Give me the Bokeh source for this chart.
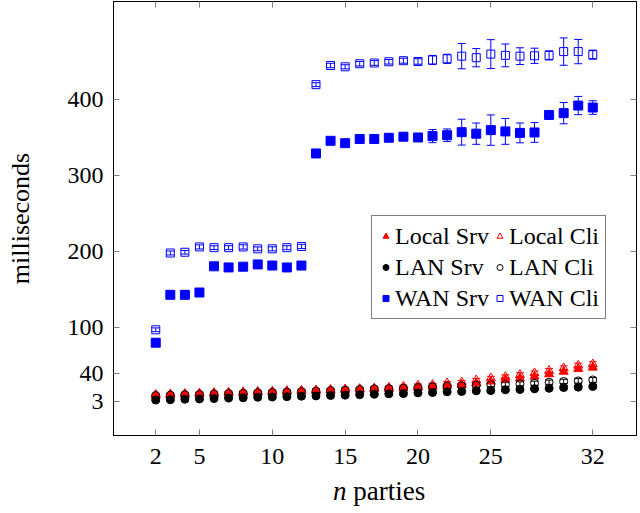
from bokeh.plotting import figure
from bokeh.layouts import column
from bokeh.models import (ColumnDataSource, FixedTicker, LinearAxis, Legend, LegendItem,
                          Whisker, TeeHead, Range1d, Div)
from bokeh.embed import file_html
from bokeh.resources import INLINE

# ---------------- data ----------------
n_parties = list(range(2, 33))

local_srv = [10.5, 11.2, 11.8, 12.3, 12.9, 13.4, 14.0, 14.5, 15.0, 15.6, 16.1, 16.7, 17.2, 17.8, 18.3,
             18.8, 19.3, 20.0, 21.0, 22.0, 23.2, 24.6, 26.7, 29.0, 31.6, 33.3, 35.5, 38.6, 42.0, 45.6, 47.4]
local_srv_err = [1.2, 1.3, 1.2, 1.4, 1.3, 1.2, 1.4, 1.3, 1.5, 1.4, 1.3, 1.5, 1.4, 1.6, 1.5,
                 1.6, 1.5, 1.7, 1.8, 1.8, 2.0, 2.1, 2.2, 2.4, 2.3, 2.5, 2.6, 2.8, 2.7, 2.9, 3.0]
local_cli = [11.5, 12.3, 12.8, 13.4, 14.0, 14.5, 15.0, 15.6, 16.0, 16.6, 17.0, 17.6, 18.2, 18.8, 19.3,
             20.0, 21.0, 22.4, 23.7, 24.6, 26.7, 28.0, 30.7, 33.3, 35.0, 37.7, 40.0, 43.0, 46.5, 50.0, 51.7]
local_cli_err = [1.2, 1.3, 1.3, 1.4, 1.3, 1.4, 1.4, 1.3, 1.5, 1.5, 1.4, 1.6, 1.5, 1.6, 1.7,
                 1.6, 1.8, 1.9, 2.0, 2.1, 2.2, 2.3, 2.4, 2.5, 2.6, 2.7, 2.8, 2.9, 3.0, 3.1, 3.2]
lan_srv = [4.5, 5.0, 5.6, 6.0, 6.5, 7.1, 7.5, 8.2, 8.5, 9.0, 9.6, 10.0, 10.6, 11.0, 11.5,
           12.2, 12.7, 13.0, 14.0, 14.5, 15.4, 15.8, 16.7, 17.0, 18.0, 18.4, 19.3, 20.0, 21.0, 21.5, 22.4]
lan_srv_err = [1.0, 1.1, 1.0, 1.2, 1.1, 1.0, 1.2, 1.1, 1.3, 1.2, 1.1, 1.3, 1.2, 1.4, 1.3,
               1.4, 1.3, 1.5, 1.5, 1.6, 1.5, 1.7, 1.6, 1.8, 1.7, 1.9, 1.8, 2.0, 2.0, 2.1, 2.2]
lan_cli = [10.5, 11.0, 11.6, 12.0, 12.4, 13.1, 13.5, 14.2, 14.6, 15.0, 15.7, 16.3, 17.0, 17.6, 18.4,
           19.3, 19.6, 20.0, 21.0, 22.0, 22.8, 23.2, 24.0, 24.6, 25.0, 25.9, 26.7, 28.0, 29.0, 29.8, 31.0]
lan_cli_err = [1.3, 1.4, 1.3, 1.5, 1.4, 1.3, 1.5, 1.4, 1.6, 1.5, 1.4, 1.6, 1.5, 1.7, 1.6,
               1.7, 1.6, 1.8, 1.9, 2.0, 2.1, 2.2, 2.3, 2.4, 2.5, 2.6, 2.7, 2.8, 2.9, 3.0, 3.1]
wan_srv = [80.0, 143.0, 143.0, 146.0, 180.5, 179.0, 180.0, 183.0, 181.5, 179.0, 181.5, 329.0, 345.6, 342.5, 348.0,
           348.0, 349.6, 351.0, 350.0, 351.8, 353.0, 357.0, 355.0, 359.7, 358.0, 356.0, 356.6, 379.6, 382.0, 392.0, 389.4]
wan_srv_err = [2.0, 2.2, 2.0, 2.4, 2.1, 2.3, 2.2, 2.5, 2.4, 2.2, 2.6, 2.5, 2.8, 2.6, 3.0,
               3.2, 3.0, 3.5, 4.0, 8.6, 8.2, 17.0, 14.0, 20.0, 17.0, 13.0, 13.0, 5.0, 14.0, 12.0, 9.0]
wan_cli = [97.0, 198.0, 199.0, 206.0, 205.0, 205.0, 206.0, 203.5, 203.5, 205.0, 206.6, 419.5, 444.7, 443.0, 447.0,
           448.0, 449.6, 451.0, 450.0, 452.0, 453.5, 457.0, 455.0, 459.7, 458.0, 457.0, 457.5, 458.0, 463.0, 463.0, 459.0]
wan_cli_err = [2.5, 2.6, 2.4, 2.7, 2.5, 2.6, 2.8, 2.5, 2.7, 2.6, 2.8, 2.6, 2.9, 2.7, 3.0,
               3.1, 3.0, 3.3, 3.6, 6.0, 6.0, 16.6, 12.0, 19.0, 15.0, 11.0, 10.0, 6.0, 18.0, 16.0, 6.0]

x_ticks = [2, 5, 10, 15, 20, 25, 32]
y_ticks = [3, 40, 100, 200, 300, 400]

FONT = "Liberation Serif"
TICK_GRAY = "#808080"

# ---------------- figure ----------------
p = figure(frame_width=523, frame_height=434, output_backend="svg", toolbar_location=None,
           x_range=Range1d(-0.9, 35.0), y_range=Range1d(-42.1, 528.9),
           min_border_left=113, min_border_right=4, min_border_top=1, min_border_bottom=41,
           margin=0)
p.grid.visible = False
p.outline_line_color = "black"
p.outline_line_width = 1
p.background_fill_color = "white"
p.border_fill_color = "white"

for ax, tk in ((p.xaxis[0], x_ticks), (p.yaxis[0], y_ticks)):
    ax.ticker = FixedTicker(ticks=tk)
    ax.major_tick_in = 6
    ax.major_tick_out = 0
    ax.minor_tick_line_color = None
    ax.major_tick_line_color = TICK_GRAY
    ax.axis_line_color = "black"
    ax.major_label_text_font = FONT
    ax.major_label_text_font_size = "24px"
    ax.major_label_text_color = "black"

p.xaxis[0].major_label_standoff = 13
p.yaxis[0].major_label_standoff = 10
p.yaxis[0].axis_label = "milliseconds"
p.yaxis[0].axis_label_text_font = FONT
p.yaxis[0].axis_label_text_font_size = "26px"
p.yaxis[0].axis_label_text_font_style = "normal"
p.yaxis[0].axis_label_text_color = "black"
p.yaxis[0].axis_label_standoff = 30

top_ax = LinearAxis(ticker=FixedTicker(ticks=x_ticks), major_label_text_font_size="1px",
                    major_label_text_color=None,
                    major_label_standoff=0, major_tick_in=6, major_tick_out=0,
                    minor_tick_line_color=None, major_tick_line_color=TICK_GRAY,
                    axis_line_color="black")
right_ax = LinearAxis(ticker=FixedTicker(ticks=y_ticks), major_label_text_font_size="1px",
                      major_label_text_color=None,
                      major_label_standoff=0, major_tick_in=6, major_tick_out=0,
                      minor_tick_line_color=None, major_tick_line_color=TICK_GRAY,
                      axis_line_color="black")
p.add_layout(top_ax, "above")
p.add_layout(right_ax, "right")

series = [
    ("Local Srv", local_srv, local_srv_err, "triangle", 9, "#ff0000", True),
    ("Local Cli", local_cli, local_cli_err, "triangle", 9, "#ff0000", False),
    ("LAN Srv", lan_srv, lan_srv_err, "circle", 8, "black", True),
    ("LAN Cli", lan_cli, lan_cli_err, "circle", 8, "black", False),
    ("WAN Srv", wan_srv, wan_srv_err, "square", 9, "#0000ff", True),
    ("WAN Cli", wan_cli, wan_cli_err, "square", 8, "#0000ff", False),
]

renderers = {}
for name, vals, errs, marker, size, color, filled in series:
    src = ColumnDataSource(dict(
        x=n_parties, y=vals,
        lo=[v - e for v, e in zip(vals, errs)],
        hi=[v + e for v, e in zip(vals, errs)],
    ))
    w = Whisker(source=src, base="x", lower="lo", upper="hi", level="underlay",
                line_color=color, line_width=1,
                lower_head=TeeHead(size=8, line_color=color, line_width=1),
                upper_head=TeeHead(size=8, line_color=color, line_width=1))
    p.add_layout(w)
    r = p.scatter(x="x", y="y", source=src, marker=marker, size=size,
                  line_color=color, line_width=1,
                  fill_color=color if filled else None,
                  fill_alpha=1.0 if filled else 0.0)
    renderers[name] = r

order = ["Local Srv", "LAN Srv", "WAN Srv", "Local Cli", "LAN Cli", "WAN Cli"]
legend = Legend(items=[LegendItem(label=nm, renderers=[renderers[nm]]) for nm in order],
                location=(258, 116), orientation="vertical", nrows=3,
                glyph_width=15, glyph_height=28, label_height=28, label_standoff=2,
                spacing=3, padding=6, margin=0,
                label_text_font=FONT, label_text_font_size="24px", label_text_color="black",
                border_line_color="black", border_line_width=1,
                background_fill_color="white", background_fill_alpha=1.0)
p.add_layout(legend)

x_title = Div(
    text=("<span style=\"font-family:'Liberation Serif';font-size:27px;line-height:22px;"
          "color:black;white-space:nowrap\"><i>n</i> parties</span>"),
    width=130, height=30, margin=(4, 0, 0, 333),
    styles={"font-family": "'Liberation Serif'", "font-size": "27px", "line-height": "22px"},
)

layout = column(p, x_title, spacing=0, margin=0)

open("out.html", "w").write(file_html(layout, INLINE))
